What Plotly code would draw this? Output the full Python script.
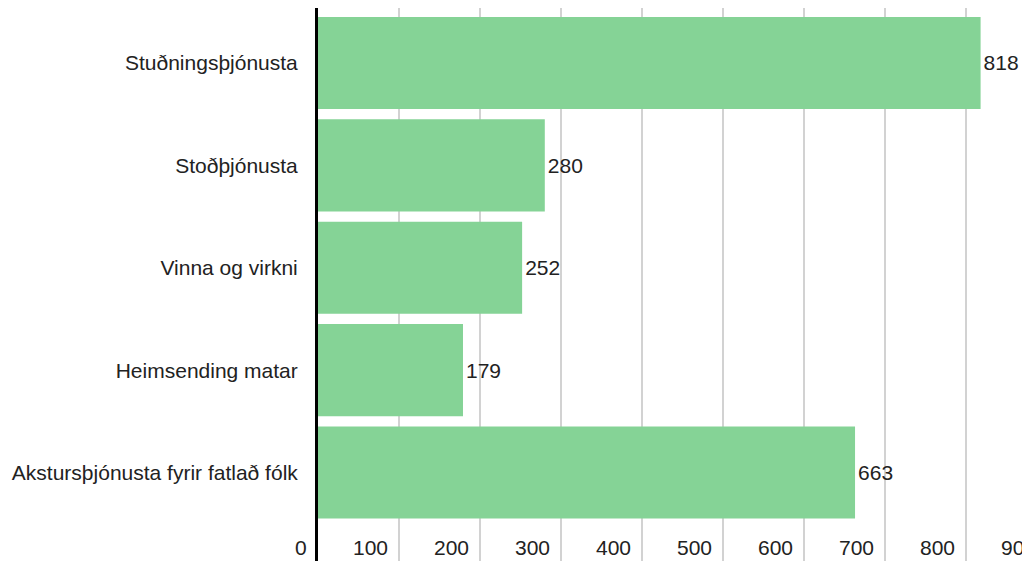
import plotly.graph_objects as go

categories = ["Stuðningsþjónusta", "Stoðþjónusta", "Vinna og virkni",
              "Heimsending matar", "Akstursþjónusta fyrir fatlað fólk"]
values = [818, 280, 252, 179, 663]
x_ticks = [0, 100, 200, 300, 400, 500, 600, 700, 800, 900]
x_tick_labels = ["0", "100", "200", "300", "400", "500", "600", "700", "800", "900"]

FONT = "Liberation Sans, Arial, sans-serif"
TEXT = "#222222"
FS = 21
XMAX = 879

fig = go.Figure()
fig.add_trace(go.Bar(
    x=values, y=categories, orientation="h",
    marker=dict(color="#85d396", line=dict(width=0)),
    text=[str(v) for v in values], textposition="outside",
    textfont=dict(family=FONT, size=FS, color=TEXT),
    cliponaxis=False, showlegend=False,
))

# tick labels (drawn as annotations so the last one can run off the edge like the reference)
for v, lab in zip(x_ticks, x_tick_labels):
    fig.add_annotation(x=v / XMAX, y=0.024, xref="paper", yref="paper", text=lab,
                       showarrow=False, xanchor="right", yanchor="middle",
                       xshift=-9, font=dict(family=FONT, size=FS, color=TEXT))

fig.update_layout(
    width=1022, height=553,
    margin=dict(l=310, r=0, t=0, b=0, pad=0),
    paper_bgcolor="white", plot_bgcolor="white",
    bargap=0.10,
    xaxis=dict(range=[0, XMAX], tickvals=x_ticks, showticklabels=False,
               showgrid=True, gridcolor="#d2d2d2", gridwidth=1.5,
               zeroline=False, showline=False, fixedrange=True),
    yaxis=dict(type="category", categoryorder="array", categoryarray=categories,
               range=[4.864, -0.537], showgrid=False, zeroline=False,
               showline=True, linecolor="black", linewidth=3,
               ticks="", ticklabelstandoff=13,
               tickfont=dict(family=FONT, size=FS, color=TEXT)),
    font=dict(family=FONT, size=FS, color=TEXT),
)

fig.write_html("out.html")
